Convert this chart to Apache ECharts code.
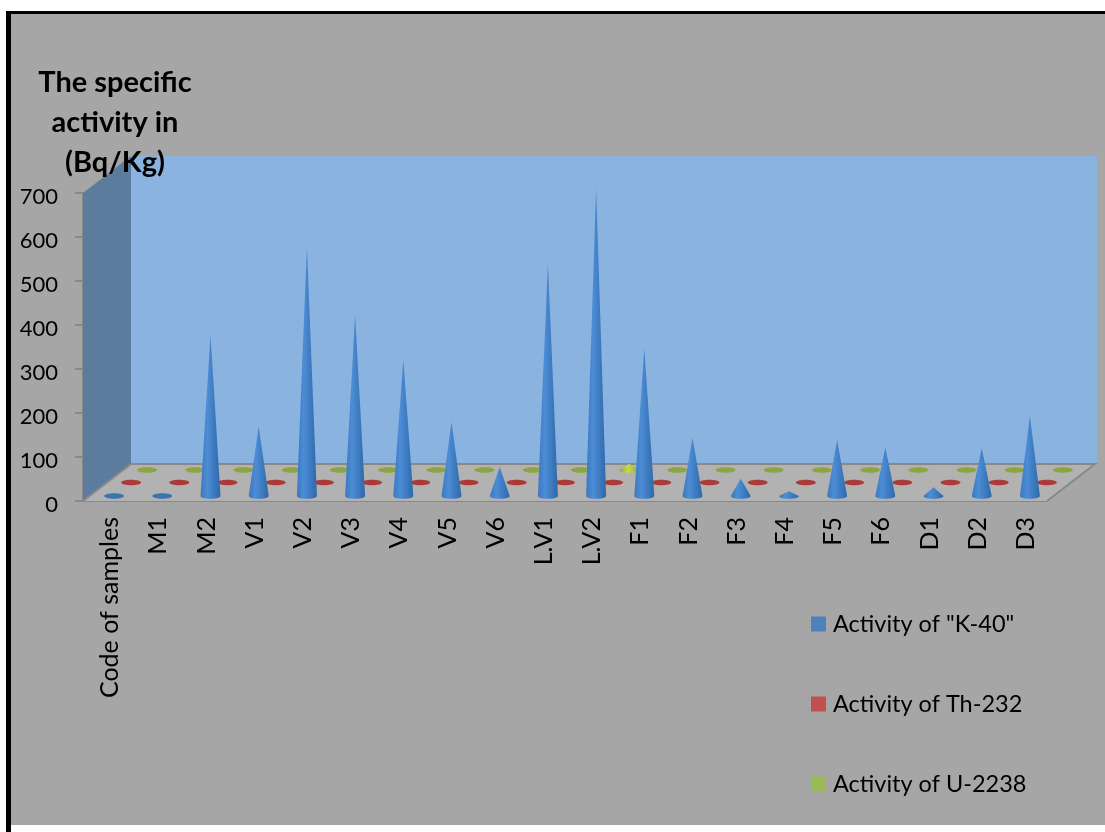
<!DOCTYPE html>
<html>
<head>
<meta charset="utf-8">
<script src="https://cdn.jsdelivr.net/npm/echarts@6/dist/echarts.min.js"></script>
<style>
  html, body { margin: 0; padding: 0; background: #fff; }
  #frame { position: absolute; left: 6px; top: 11px; width: 1099px; height: 821px; border-left: 5px solid #000; box-sizing: border-box; }
  #panel { position: absolute; left: 11px; top: 14px; width: 1094px; height: 811px; background: #a6a6a6; }
  #topline { position: absolute; left: 6px; top: 11px; width: 1099px; height: 3px; background: #000; }
  #main { position: absolute; left: 0; top: 0; width: 1105px; height: 832px; }
</style>
</head>
<body>
<div id="frame"></div>
<div id="panel"></div>
<div id="topline"></div>
<div id="main"></div>
<script>
var categories = ['Code of samples', 'M1', 'M2', 'V1', 'V2', 'V3', 'V4', 'V5', 'V6', 'L.V1', 'L.V2', 'F1', 'F2', 'F3', 'F4', 'F5', 'F6', 'D1', 'D2', 'D3'];
var yTicks = [0, 100, 200, 300, 400, 500, 600, 700];
var k40 = [1, 1, 367, 158, 566, 411, 309, 168, 66, 528, 700, 336, 132, 39, 11, 127, 111, 20, 109, 182];
var th232 = [1, 1, 1, 1, 1, 1, 1, 1, 1, 1, 1, 1, 1, 1, 1, 1, 1, 1, 1, 1];
var u238 = [1, 1, 1, 1, 1, 1, 1, 1, 1, 1, 14, 1, 1, 1, 1, 1, 1, 1, 1, 1];

var fontName = 'Lato, sans-serif';
var depthX = 48, depthY = 37;

// cone drawn as polygon, the base is half of an ellipse
function coneItem(dx, dy, stops, flat) {
  return function (params, api) {
    var i = api.value(0);
    var tip = api.coord([i, api.value(1)]);
    var base = api.coord([i, 0]);
    var cx = base[0] + dx, cy = base[1] + dy, ty = tip[1] + dy;
    var rx = 10, ry = 2.8;
    var pts = [[cx, ty]];
    var children = [];
    if (cy - ty > 3) {
      for (var a = 0; a <= 24; a++) {
        var t = a / 24 * Math.PI;
        pts.push([cx + rx * Math.cos(t), cy + ry * Math.sin(t)]);
      }
      children.push({
        type: 'polygon',
        shape: { points: pts },
        style: { fill: new echarts.graphic.LinearGradient(0, 0, 1, 0, stops) }
      });
    } else {
      children.push({
        type: 'ellipse',
        shape: { cx: cx, cy: cy, rx: rx, ry: ry },
        style: { fill: flat }
      });
    }
    return { type: 'group', children: children };
  };
}

// back wall, side wall and floor hang on the grid rectangle
function wallsItem(params, api) {
  var g = params.coordSys;
  var x0 = g.x, x1 = g.x + g.width, y0 = g.y, y1 = g.y + g.height;
  return {
    type: 'group',
    children: [
      { type: 'rect', shape: { x: x0 + depthX, y: y0 - depthY, width: g.width + 2, height: g.height }, style: { fill: '#8bb3e0' } },
      { type: 'polygon', shape: { points: [[x0, y0], [x0 + depthX, y0 - depthY], [x0 + depthX, y1 - depthY], [x0, y1]] }, style: { fill: '#5c7c9e' } },
      { type: 'polygon', shape: { points: [[x0, y1], [x0 + depthX, y1 - depthY], [x1 + depthX, y1 - depthY], [x1, y1]] }, style: { fill: '#b2b2b2' } },
      { type: 'polyline', shape: { points: [[x0, y1], [x0 + depthX, y1 - depthY], [x1 + depthX, y1 - depthY], [x1, y1]] }, style: { fill: 'none', stroke: '#888888', lineWidth: 2 } }
    ]
  };
}

function toData(arr) {
  return arr.map(function (v, i) { return [i, v]; });
}

var blueStops = [
  { offset: 0, color: '#3b79c2' },
  { offset: 0.35, color: '#4c8dd6' },
  { offset: 0.75, color: '#3a76ba' },
  { offset: 1, color: '#2c68aa' }
];
var redStops = [{ offset: 0, color: '#a83a36' }, { offset: 1, color: '#a83a36' }];
var greenStops = [
  { offset: 0, color: '#8aa644' },
  { offset: 0.45, color: '#c6dc4c' },
  { offset: 1, color: '#8aa644' }
];

var chart = echarts.init(document.getElementById('main'), null, { renderer: 'canvas' });
chart.setOption({
  backgroundColor: 'transparent',
  animation: false,
  textStyle: { fontFamily: fontName },
  title: {
    text: 'The specific\nactivity in\n(Bq/Kg)',
    left: 110,
    top: 58,
    textAlign: 'center',
    textStyle: { fontFamily: fontName, fontSize: 29, fontWeight: 'bold', color: '#000', lineHeight: 40 }
  },
  legend: {
    orient: 'vertical',
    left: 811,
    top: 612,
    padding: 0,
    itemWidth: 15,
    itemHeight: 15,
    itemGap: 56,
    icon: 'rect',
    data: ['Activity of "K-40"', 'Activity of Th-232', 'Activity of U-2238'],
    textStyle: { fontFamily: fontName, fontSize: 23.5, lineHeight: 24, color: '#000', padding: [0, 0, 0, 2] }
  },
  grid: { left: 83, right: 58, top: 193, bottom: 331 },
  xAxis: {
    type: 'category',
    data: categories,
    axisLine: { lineStyle: { color: '#888888', width: 2 } },
    axisTick: { length: 8, lineStyle: { color: '#888888', width: 2 } },
    axisLabel: { interval: 0, rotate: 90, margin: 16, fontSize: 25, color: '#000', fontFamily: fontName, verticalAlign: 'top', lineHeight: 6 }
  },
  yAxis: {
    type: 'value',
    min: 0,
    max: 700,
    interval: 100,
    axisLine: { show: true, lineStyle: { color: '#888888', width: 2 } },
    axisTick: { show: true, length: 8, lineStyle: { color: '#888888', width: 2 } },
    splitLine: { show: false },
    axisLabel: {
      margin: 25, fontSize: 22, color: '#000', fontFamily: fontName, verticalAlign: 'top', lineHeight: 8,
      formatter: function (v) { return yTicks.indexOf(v) >= 0 ? String(v) : ''; }
    }
  },
  series: [
    { type: 'custom', name: 'walls', silent: true, z: 1, renderItem: wallsItem, data: [[0, 0]], clip: false },
    { type: 'custom', name: 'Activity of U-2238', z: 3, itemStyle: { color: '#9bbb59' },
      renderItem: coneItem(40, -31, greenStops, '#8aa644'), data: toData(u238), clip: false },
    { type: 'custom', name: 'Activity of Th-232', z: 4, itemStyle: { color: '#c0504d' },
      renderItem: coneItem(24, -18.5, redStops, '#ab3b37'), data: toData(th232), clip: false },
    { type: 'custom', name: 'Activity of "K-40"', z: 5, itemStyle: { color: '#4f81bd' },
      renderItem: coneItem(7, -5, blueStops, '#3b74b0'), data: toData(k40), clip: false }
  ]
});
</script>
</body>
</html>
